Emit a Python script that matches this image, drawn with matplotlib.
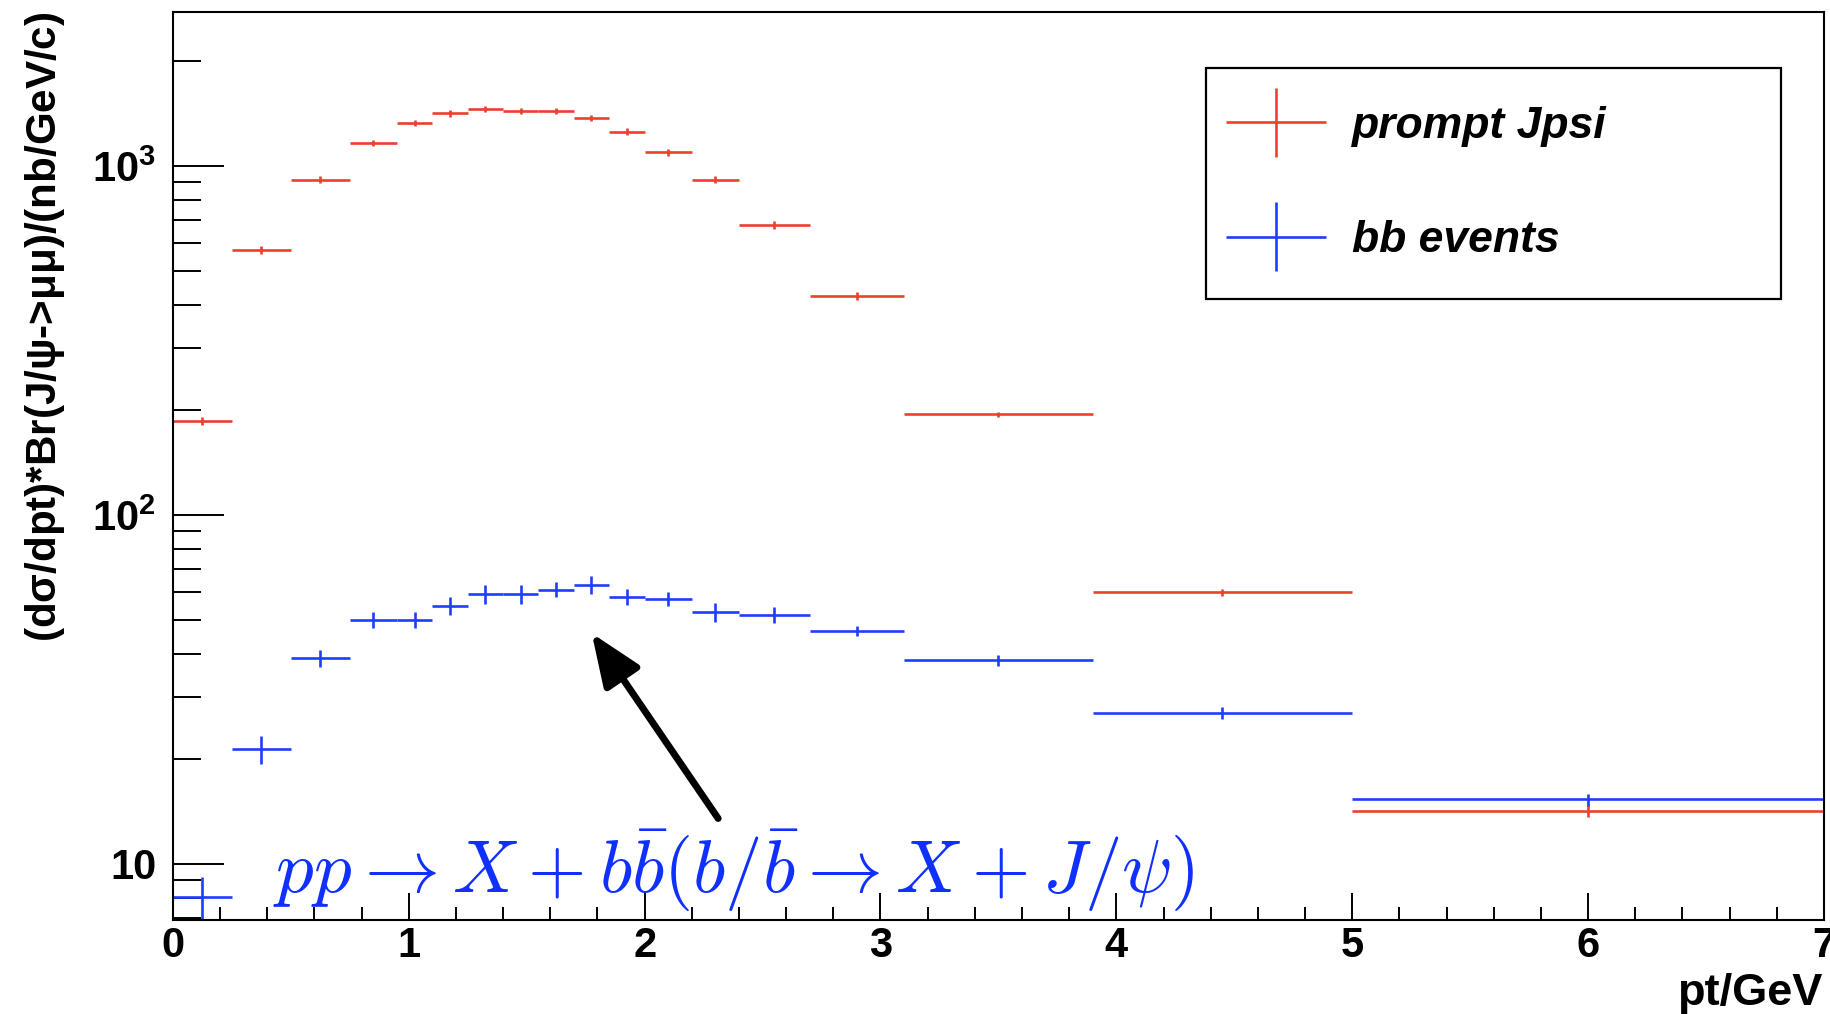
import numpy as np
import matplotlib
matplotlib.use("Agg")
import matplotlib.pyplot as plt
from matplotlib.ticker import FixedLocator, FixedFormatter, LogLocator, NullFormatter
from matplotlib.legend_handler import HandlerErrorbar
from matplotlib.container import ErrorbarContainer

# ---- data ----
bin_edges = [0, 0.25, 0.5, 0.75, 0.95, 1.1, 1.25, 1.4, 1.55, 1.7, 1.85, 2.0,
             2.2, 2.4, 2.7, 3.1, 3.9, 5.0, 7.0]
prompt_vals = [186, 573, 912, 1161, 1328, 1413, 1454, 1435, 1435, 1370, 1252,
               1092, 912, 676, 424, 194, 60.0, 14.2]
prompt_err = [5, 15, 22, 25, 28, 30, 32, 30, 30, 30, 28, 25, 22, 17, 10, 3.5, 1.5, 0.55]
bb_vals = [8.05, 21.3, 38.8, 50.1, 50.1, 54.8, 59.3, 59.3, 61.1, 63.0, 58.3,
           57.5, 52.6, 51.7, 46.5, 38.3, 27.1, 15.3]
bb_err = [1.1, 1.9, 2.2, 2.7, 2.7, 3.3, 3.8, 3.8, 3.0, 3.8, 3.0, 2.8, 3.3, 2.7,
          1.6, 1.3, 1.1, 0.6]
series_labels = ["prompt Jpsi", "bb events"]
xtick_values = [0, 1, 2, 3, 4, 5, 6, 7]
xtick_labels = ["0", "1", "2", "3", "4", "5", "6", "7"]
ytick_values = [10, 100, 1000]
ytick_labels = ["10", r"$\mathbf{10^{2}}$", r"$\mathbf{10^{3}}$"]
x_label = "pt/GeV"
y_label = r"(d$\mathbf{\sigma}$/dpt)*Br(J/$\mathbf{\psi}$->$\mathbf{\mu\mu}$)/(nb/GeV/c)"
annot_text = r"$pp \rightarrow X + b\bar{b}(b/\bar{b} \rightarrow X + J/\psi)$"
arrow_tip = (1.776, 45.8)
arrow_tail = (2.312, 13.5)
annot_pos = (0.425, 8.26)

# ---- style ----
plt.rcParams["font.family"] = ["Liberation Sans", "DejaVu Sans"]
plt.rcParams["font.weight"] = "bold"
plt.rcParams["mathtext.fontset"] = "custom"
plt.rcParams["mathtext.rm"] = "Liberation Sans:bold"
plt.rcParams["mathtext.bf"] = "Liberation Sans:bold"
plt.rcParams["mathtext.it"] = "Liberation Sans:bold:italic"
plt.rcParams["mathtext.sf"] = "Liberation Sans:bold"

RED = "#ec3f2e"
BLUE = "#1f3dff"
TXTBLUE = "#1030ff"

W, H = 1831, 1014
fig = plt.figure(figsize=(W / 100, H / 100), dpi=100)
ax = fig.add_axes([172.8 / W, 1 - 920 / H, (1824 - 172.8) / W, (920 - 11.7) / H])

edges = np.array(bin_edges)
centers = 0.5 * (edges[:-1] + edges[1:])
halfw = 0.5 * (edges[1:] - edges[:-1])

lw = 1.9
e1 = ax.errorbar(centers, prompt_vals, xerr=halfw, yerr=prompt_err, fmt="none",
                 ecolor=RED, elinewidth=lw, capsize=0, label=series_labels[0])
e2 = ax.errorbar(centers, bb_vals, xerr=halfw, yerr=bb_err, fmt="none",
                 ecolor=BLUE, elinewidth=lw, capsize=0, label=series_labels[1])

ax.set_yscale("log")
ax.set_xlim(0, 7)
ax.set_ylim(6.91, 2764)

ax.xaxis.set_major_locator(FixedLocator(xtick_values))
ax.xaxis.set_major_formatter(FixedFormatter(xtick_labels))
ax.xaxis.set_minor_locator(FixedLocator(np.arange(0, 7.01, 0.2)))
ax.yaxis.set_major_locator(FixedLocator(ytick_values))
ax.yaxis.set_major_formatter(FixedFormatter(ytick_labels))
ax.yaxis.set_minor_locator(LogLocator(base=10, subs=np.arange(2, 10)))
ax.yaxis.set_minor_formatter(NullFormatter())

for s in ax.spines.values():
    s.set_linewidth(1.5)
    s.set_color("black")

ax.tick_params(axis="both", which="both", direction="in", top=False, right=False,
               width=1.4, colors="black")
ax.tick_params(axis="y", which="major", length=37, pad=12, labelsize=30)
ax.tick_params(axis="y", which="minor", length=20)
ax.tick_params(axis="x", which="major", length=19.5, pad=4, labelsize=30)
ax.tick_params(axis="x", which="minor", length=9.5)

ax.set_xlabel(x_label, loc="right", fontsize=32.5, fontweight="bold")
ax.xaxis.set_label_coords(0.999, -0.058)
ax.set_ylabel(y_label, loc="top", fontsize=30.3, fontweight="bold")
ax.yaxis.set_label_coords(-0.064, 1.0)

# annotation
ax.text(annot_pos[0], annot_pos[1], annot_text, color=TXTBLUE, fontsize=54,
        math_fontfamily="cm", va="baseline", ha="left")
ax.annotate("", xy=arrow_tip, xytext=arrow_tail,
            arrowprops=dict(arrowstyle="-|>,head_length=1.6,head_width=0.65",
                            lw=5, color="black", mutation_scale=20,
                            shrinkA=0, shrinkB=0))

# legend
fs = 32
fs_px = fs * 100 / 72
leg = ax.legend(handles=[e1, e2], labels=series_labels, loc="upper left",
                bbox_to_anchor=(1206 / W, 0.5, (1781 - 1206) / W, (1 - 68 / H) - 0.5),
                bbox_transform=fig.transFigure, mode="expand", borderaxespad=0,
                frameon=True, fancybox=False, edgecolor="black", framealpha=1,
                numpoints=1, handlelength=1.44, handletextpad=0.99,
                borderpad=0.85, labelspacing=1.65,
                prop=dict(family="Liberation Sans", style="italic", weight="bold", size=fs),
                handler_map={ErrorbarContainer: HandlerErrorbar(xerr_size=50 / fs_px,
                                                                yerr_size=34.5 / fs_px)})
leg.get_frame().set_linewidth(1.6)

fig.savefig("out.png", dpi=100)
